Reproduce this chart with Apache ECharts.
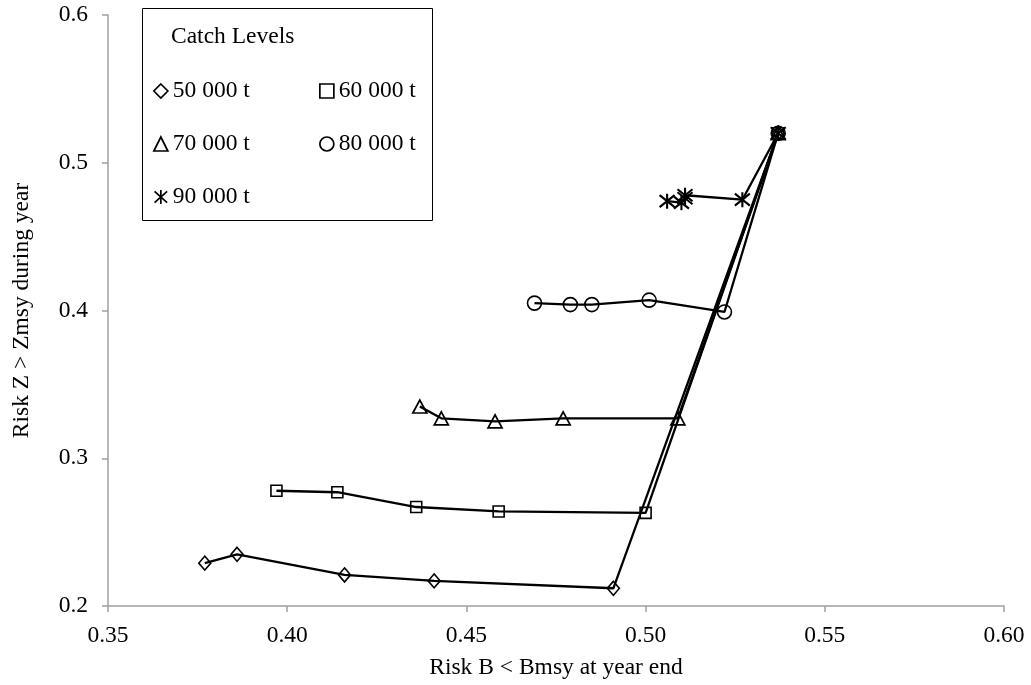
<!DOCTYPE html>
<html>
<head>
<meta charset="utf-8">
<script src="https://cdn.jsdelivr.net/npm/echarts@6/dist/echarts.min.js"></script>
<style>
  html, body { margin: 0; padding: 0; background: #fff; }
  #chart { width: 1031px; height: 685px; }
</style>
</head>
<body>
<div id="chart"></div>
<script>
// Catch scenarios: each run starts from the same first-year point,
// then follows the yearly risk pairs (B < Bmsy, Z > Zmsy).
const catchLevels = ['50 000 t', '60 000 t', '70 000 t', '80 000 t', '90 000 t'];

const riskB_50 = [0.537, 0.491, 0.441, 0.416, 0.386, 0.377];
const riskZ_50 = [0.520, 0.212, 0.217, 0.221, 0.235, 0.229];

const riskB_60 = [0.537, 0.500, 0.459, 0.436, 0.414, 0.397];
const riskZ_60 = [0.520, 0.263, 0.264, 0.267, 0.277, 0.278];

const riskB_70 = [0.537, 0.509, 0.477, 0.458, 0.443, 0.437];
const riskZ_70 = [0.520, 0.327, 0.327, 0.325, 0.327, 0.335];

const riskB_80 = [0.537, 0.522, 0.501, 0.485, 0.479, 0.469];
const riskZ_80 = [0.520, 0.399, 0.407, 0.404, 0.404, 0.405];

const riskB_90 = [0.537, 0.527, 0.511, 0.511, 0.510, 0.506];
const riskZ_90 = [0.520, 0.475, 0.478, 0.476, 0.473, 0.474];

const xTicks = { min: 0.35, max: 0.60, step: 0.05 };
const yTicks = { min: 0.2, max: 0.6, step: 0.1 };

const FONT = 'Liberation Serif';
const FS = 23.5;
const AXIS_GREY = '#a0a0a0';

// six-armed asterisk marker: vertical stroke plus an X
const asterisk = 'path://M0,-10L0,10M-9,-8L9,8M-9,8L9,-8';

const seriesDefs = [
  { name: catchLevels[0], xs: riskB_50, ys: riskZ_50, symbol: 'diamond', size: [12, 14], bw: 1.6 },
  { name: catchLevels[1], xs: riskB_60, ys: riskZ_60, symbol: 'rect', size: 11, bw: 1.6 },
  { name: catchLevels[2], xs: riskB_70, ys: riskZ_70, symbol: 'triangle', size: [14, 13], bw: 1.7 },
  { name: catchLevels[3], xs: riskB_80, ys: riskZ_80, symbol: 'circle', size: 14, bw: 1.6 },
  { name: catchLevels[4], xs: riskB_90, ys: riskZ_90, symbol: asterisk, size: 15, bw: 2.1 }
];

const series = seriesDefs.map(d => ({
  name: d.name,
  type: 'line',
  data: d.xs.map((x, i) => [x, d.ys[i]]),
  symbol: d.symbol,
  symbolSize: d.size,
  showAllSymbol: true,
  smooth: false,
  lineStyle: { color: '#000', width: 2.3 },
  itemStyle: { color: 'rgba(255,255,255,0)', borderColor: '#000', borderWidth: d.bw },
  emphasis: { disabled: true },
  animation: false,
  z: 3
}));

function legendCol(names, left, top) {
  return {
    orient: 'vertical',
    left: left,
    top: top,
    padding: 0,
    itemGap: 29,
    itemWidth: 14,
    itemHeight: 14,
    selectedMode: false,
    data: names.map(n => ({ name: n, icon: seriesDefs.find(d => d.name === n).symbol })),
    textStyle: { fontFamily: FONT, fontSize: FS, color: '#000', padding: [0, 0, 0, 0] },
    itemStyle: { color: 'rgba(255,255,255,0)', borderColor: '#000', borderWidth: 1.7 }
  };
}

const chart = echarts.init(document.getElementById('chart'), null, { renderer: 'canvas' });

chart.setOption({
  backgroundColor: '#fff',
  animation: false,
  textStyle: { fontFamily: FONT },
  title: {
    text: 'Catch Levels',
    left: 171,
    top: 25,
    padding: 0,
    textStyle: { fontFamily: FONT, fontSize: FS, fontWeight: 'normal', color: '#000' }
  },
  legend: [
    legendCol([catchLevels[0], catchLevels[2], catchLevels[4]], 153, 79),
    legendCol([catchLevels[1], catchLevels[3]], 319, 79)
  ],
  graphic: [{
    type: 'rect',
    shape: { x: 142.5, y: 8.5, width: 290, height: 212 },
    style: { fill: 'none', stroke: '#000', lineWidth: 1 },
    z: 0
  }],
  grid: { left: 108, top: 15, right: 27, bottom: 78, containLabel: false },
  xAxis: {
    type: 'value',
    min: xTicks.min,
    max: xTicks.max,
    interval: xTicks.step,
    name: 'Risk B < Bmsy at year end',
    nameLocation: 'middle',
    nameGap: 50,
    nameTextStyle: { fontFamily: FONT, fontSize: FS, color: '#000' },
    axisLine: { show: true, onZero: false, lineStyle: { color: AXIS_GREY, width: 1.5 } },
    axisTick: { show: true, inside: false, length: 6, lineStyle: { color: AXIS_GREY, width: 1.5 } },
    axisLabel: { margin: 18, fontFamily: FONT, fontSize: FS, color: '#000', formatter: v => v.toFixed(2) },
    splitLine: { show: false }
  },
  yAxis: {
    type: 'value',
    min: yTicks.min,
    max: yTicks.max,
    interval: yTicks.step,
    name: 'Risk Z > Zmsy during year',
    nameLocation: 'middle',
    nameGap: 74,
    nameRotate: 90,
    nameTextStyle: { fontFamily: FONT, fontSize: FS, color: '#000' },
    axisLine: { show: true, onZero: false, lineStyle: { color: AXIS_GREY, width: 1.5 } },
    axisTick: { show: true, inside: false, length: 6, lineStyle: { color: AXIS_GREY, width: 1.5 } },
    axisLabel: { margin: 20, fontFamily: FONT, fontSize: FS, color: '#000', formatter: v => v.toFixed(1) },
    splitLine: { show: false }
  },
  series: series
});
</script>
</body>
</html>
